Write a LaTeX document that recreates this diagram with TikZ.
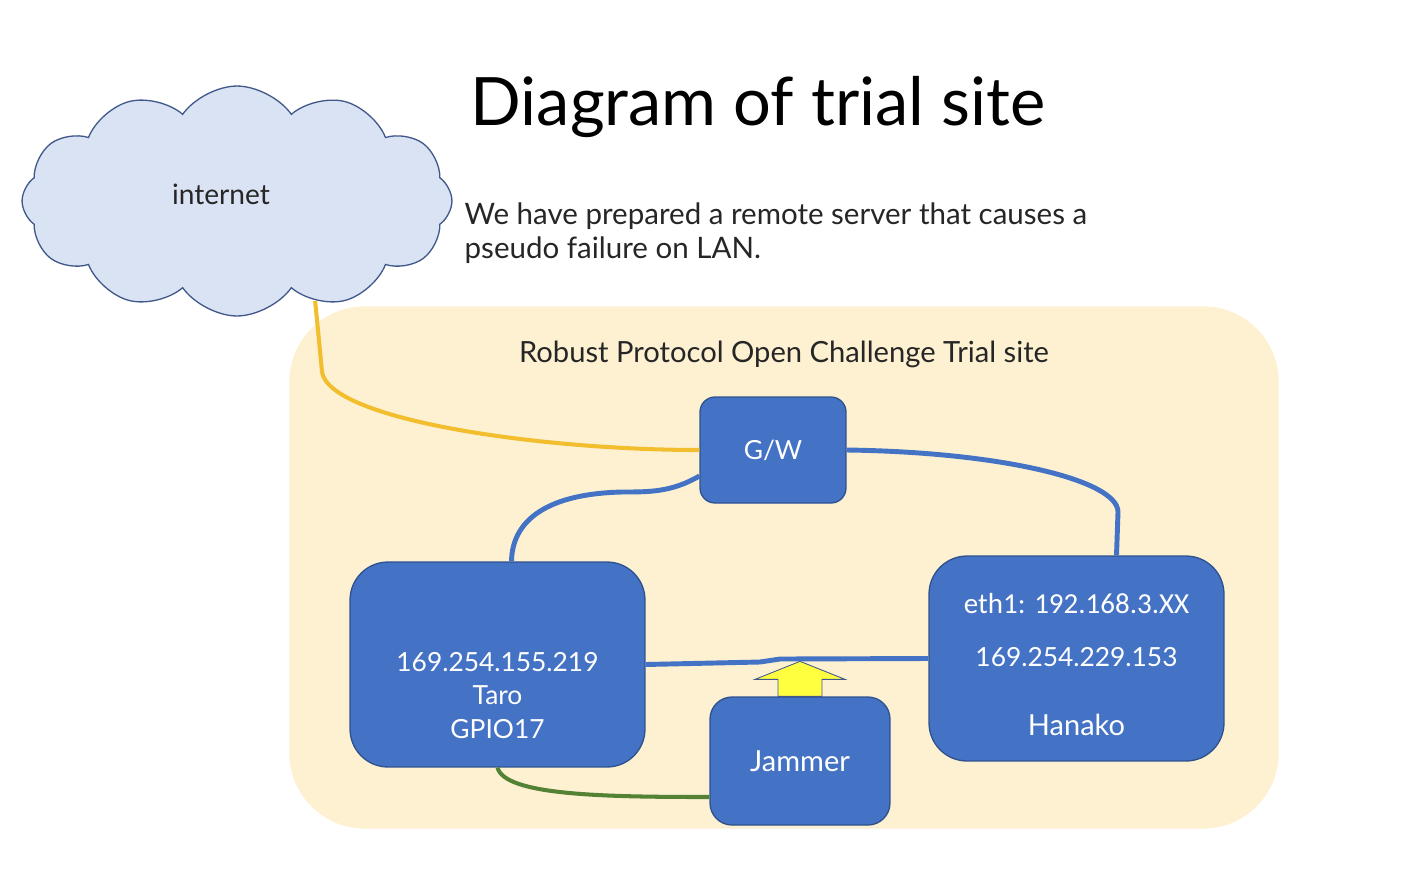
\documentclass[tikz,border=0pt]{standalone}
\usepackage{fontspec}
\setmainfont{Lato}
\newfontfamily\ethfont{Carlito}
\usetikzlibrary{shapes.symbols,positioning,calc}
\tikzset{every picture/.style={line width=0.75pt}}
\definecolor{sitefill}{HTML}{FDF1D2}
\definecolor{boxblue}{HTML}{4472C4}
\definecolor{boxline}{HTML}{2F528F}
\definecolor{wireyl}{HTML}{F2BE2E}
\definecolor{wiregr}{HTML}{548235}
\definecolor{cloudfill}{HTML}{DAE3F3}
\definecolor{cloudline}{HTML}{41598A}
\definecolor{arrowyl}{HTML}{FFFF40}
\tikzset{
  devbox/.style={draw=boxline, fill=boxblue, text=white, inner sep=0pt},
  bluewire/.style={draw=boxblue, line width=2.8pt},
  txt/.style={inner sep=0pt, text=black!85}
}

\begin{document}
\begin{tikzpicture}[x=0.02cm, y=-0.02cm]
    \useasboundingbox[fill=white] (0,0) rectangle (1416,880);
    % trial site area
    \draw[sitefill, fill=sitefill, rounded corners=1.5cm] (290,307) rectangle (1278,828);
    \node[txt, font=\fontsize{16.6}{19}\selectfont] (site) at (784,354) {Robust Protocol Open Challenge Trial site};
    % title and note
    \node[txt, anchor=base west, font=\fontsize{38}{46}\selectfont, text=black] (title) at (470,125) {Diagram of trial site};
    \node[txt, anchor=north west, align=left, font=\fontsize{16.8}{19.4}\selectfont] (note) at (464,202)
        {We have prepared a remote server that causes a\\pseudo failure on LAN.};
    % cloud
    \node[cloud, cloud puffs=12, cloud puff arc=110, aspect=1.9, draw=cloudline, fill=cloudfill,
          minimum width=8.6cm, minimum height=4.6cm] (internet) at (237,201) {};
    \node[txt, font=\fontsize{16}{19}\selectfont] (inettext) at (221,194) {internet};
    % devices
    \node[devbox, rounded corners=0.3cm, minimum width=2.92cm, minimum height=2.12cm,
          font=\fontsize{15}{18}\selectfont] (gw) at (773,450) {G/W};
    \node[devbox, rounded corners=0.76cm, minimum width=5.9cm, minimum height=4.1cm] (taro) at (497.5,664.5) {};
    \node[devbox, rounded corners=0.76cm, minimum width=5.9cm, minimum height=4.1cm] (hanako) at (1076.5,658.5) {};
    \node[devbox, rounded corners=0.44cm, minimum width=3.6cm, minimum height=2.56cm,
          font=\fontsize{16.5}{19}\selectfont] (jammer) at (800,761) {Jammer};
    % jamming arrow
    \draw[cloudline, fill=arrowyl, line width=0.5pt] ($(jammer.north)+(-22,0)$) -- ++(0,-17) -- ++(-23,0)
        -- ++(45,-18) -- ++(45,18) -- ++(-23,0) -- ++(0,17) -- cycle;
    % wires
    \draw[wireyl, line width=2.3pt] (internet.-52) .. controls (318,330) .. (322,372)
        .. controls (330,420) and (540,450) .. (gw.west);
    \draw[bluewire] ($(gw.west)+(0,26)$) .. controls (672,492) and (650,492) .. (622,492)
        .. controls (540,494) and (512,525) .. ($(taro.north)+(14,0)$);
    \draw[bluewire] (gw.east) .. controls (1000,452) and (1118,480) .. (1118,512)
        -- ($(hanako.north)+(40,0)$);
    \draw[bluewire] (taro.east) -- (760,662) -- (780,659) -- (hanako.west);
    \draw[wiregr, line width=2.3pt] (taro.south) .. controls (505,795) and (600,797) .. ($(jammer.west)+(0,36)$);
    % box texts
    \node[align=center, text=white, font=\fontsize{15}{19}\selectfont] (tarotext) at ($(taro.center)+(0,31)$)
        {169.254.155.219\\Taro\\GPIO17};
    \node[text=white, font=\ethfont\fontsize{16.5}{19}\selectfont] (hketh) at ($(hanako.center)+(0,-55)$) {eth1: 192.168.3.XX};
    \node[text=white, font=\fontsize{15}{18}\selectfont] (hkip) at ($(hanako.center)+(0,-1)$) {169.254.229.153};
    \node[text=white, font=\fontsize{16.5}{18}\selectfont] (hkname) at ($(hanako.center)+(0,66)$) {Hanako};
\end{tikzpicture}
\end{document}
